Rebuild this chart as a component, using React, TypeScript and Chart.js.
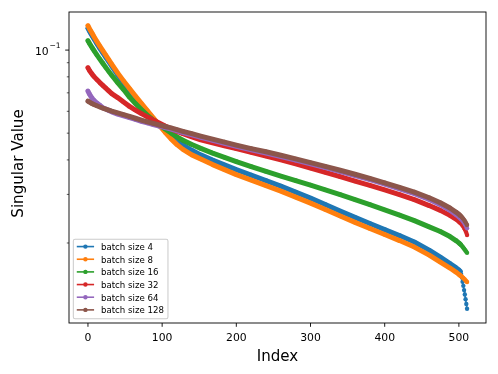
import { useEffect, useRef } from 'react';
import { Chart, registerables } from 'chart.js';

Chart.register(...registerables);

// ---- data ----
const INDEX = [0, 2, 4, 6, 8, 12, 16, 20, 24, 28, 32, 40, 48, 56, 64, 72, 80, 88, 96, 104, 112, 120, 128, 140, 152, 168, 184, 200, 220, 240, 260, 280, 300, 320, 340, 360, 380, 400, 420, 440, 460, 475, 488, 496, 500, 502, 503, 504, 505, 506, 507, 508, 509, 510, 511];

const BS4 = [0.1199, 0.1172, 0.1146, 0.1122, 0.1099, 0.1055, 0.1014, 0.09769, 0.09418, 0.09078, 0.0875,
  0.08131, 0.07612, 0.07145, 0.06723, 0.06336, 0.05982, 0.05647, 0.05358, 0.05096, 0.0488, 0.04696, 0.04535,
  0.04335, 0.04172, 0.03995, 0.03838, 0.0369,
  0.03525, 0.03367, 0.03216, 0.03059, 0.02909, 0.02756, 0.0261, 0.02477, 0.02352, 0.02237, 0.02128, 0.02016, 0.01885,
  0.01778, 0.01685, 0.01629, 0.01596, 0.01576,
  0.01543, 0.01499, 0.01447, 0.01399, 0.0135, 0.01302, 0.01251, 0.01202, 0.01156];

const BS8 = [0.1225, 0.1196, 0.117, 0.1145, 0.1121, 0.1075, 0.1034, 0.09958, 0.09591, 0.09238, 0.08898,
  0.08268, 0.07734, 0.07253, 0.06813, 0.06411, 0.06037, 0.0568, 0.05349, 0.05037, 0.04768, 0.04546, 0.04368,
  0.04172, 0.04028, 0.03847, 0.0369, 0.03539,
  0.03381, 0.03229, 0.03084, 0.02934, 0.0279, 0.02643, 0.02504, 0.02376, 0.02256, 0.02146, 0.02041, 0.01933, 0.01808,
  0.01706, 0.01623, 0.01569, 0.01539, 0.01524,
  0.01517, 0.01509, 0.01501, 0.01493, 0.01483, 0.01474, 0.01464, 0.01453, 0.01444];

const BS16 = [0.1081, 0.1058, 0.1037, 0.1017, 0.09975, 0.09608, 0.09277, 0.08957, 0.08656, 0.08372, 0.08104,
  0.07625, 0.07193, 0.06756, 0.064, 0.06087, 0.05814, 0.05577, 0.05367, 0.05182, 0.05004, 0.04848, 0.04712,
  0.04546, 0.04404, 0.04235, 0.04086, 0.03945,
  0.03784, 0.03635, 0.03495, 0.03367, 0.03243, 0.03116, 0.02996, 0.02873, 0.02756, 0.02637, 0.02525, 0.02411, 0.02288,
  0.022, 0.0211, 0.02041, 0.02002, 0.01979,
  0.01966, 0.01953, 0.01938, 0.01924, 0.01908, 0.01892, 0.01876, 0.01859, 0.01842];

const BS32 = [0.08628, 0.08442, 0.08289, 0.08151, 0.0803, 0.07818, 0.07625, 0.07449, 0.07283, 0.07115, 0.06957,
  0.06728, 0.0648, 0.06252, 0.06062, 0.05888, 0.05728, 0.05577, 0.05439, 0.05305, 0.05182, 0.05075, 0.04979,
  0.04848, 0.04732, 0.04611, 0.04497, 0.04393,
  0.0426, 0.0413, 0.04002, 0.0387, 0.03737, 0.03605, 0.03478, 0.03353, 0.03235, 0.03116, 0.02996, 0.02871, 0.02733,
  0.02626, 0.02518, 0.02442, 0.02395, 0.02368,
  0.02352, 0.02334, 0.02315, 0.02294, 0.02269, 0.02243, 0.02213, 0.02178, 0.02137];

const BS64 = [0.07103, 0.06928, 0.06785, 0.06672, 0.06578, 0.06427, 0.0631, 0.06185, 0.06119, 0.06047, 0.05972,
  0.05863, 0.05776, 0.0569, 0.05605, 0.05521, 0.05444, 0.05371, 0.053, 0.05235, 0.05173, 0.05101, 0.05029,
  0.04929, 0.04832, 0.04712, 0.04596, 0.04482,
  0.04353, 0.04235, 0.04113, 0.03991, 0.0387, 0.03749, 0.03629, 0.0351, 0.03392, 0.0327, 0.03144, 0.03021, 0.02876,
  0.02754, 0.02628, 0.02537, 0.02487, 0.02458,
  0.02442, 0.02426, 0.02407, 0.02387, 0.02366, 0.02342, 0.02317, 0.0229, 0.0226];

const BS128 = [0.06535, 0.0648, 0.06432, 0.06389, 0.06352, 0.06284, 0.06221, 0.06164, 0.06113, 0.06062, 0.06012,
  0.05922, 0.05834, 0.05747, 0.05662, 0.05577, 0.05498, 0.05425, 0.05354, 0.05287, 0.05226, 0.05152, 0.05079,
  0.04979, 0.0488, 0.04759, 0.04642, 0.04527,
  0.04397, 0.04281, 0.04158, 0.04035, 0.03912, 0.0379, 0.03669, 0.03548, 0.03429, 0.03305, 0.03181, 0.03059, 0.02917,
  0.02798, 0.02677, 0.02589, 0.0254, 0.02512,
  0.02498, 0.02483, 0.02464, 0.02446, 0.02426, 0.02403, 0.0238, 0.02354, 0.02323];

const LABELS = ['batch size 4', 'batch size 8', 'batch size 16', 'batch size 32', 'batch size 64', 'batch size 128'];
const SERIES = [BS4, BS8, BS16, BS32, BS64, BS128];
const COLORS = ['#1f77b4', '#ff7f0e', '#2ca02c', '#d62728', '#9467bd', '#8c564b'];

const X_TICKS = [0, 100, 200, 300, 400, 500];
const X_TICK_LABELS = ['0', '100', '200', '300', '400', '500'];
const Y_MAJOR = [0.1];
const Y_MINOR = [0.02, 0.03, 0.04, 0.05, 0.06, 0.07, 0.08, 0.09];
const X_TITLE = 'Index';
const Y_TITLE = 'Singular Value';

const X_MIN = -25.55;
const X_MAX = 536.55;
const Y_MIN = 0.01026;
const Y_MAX = 0.1374;

const FONT = '"DejaVu Sans", "Liberation Sans", sans-serif';

const mplAxes = {
  id: 'mplAxes',
  beforeDraw(chart: any) {
    const { ctx, width, height } = chart;
    ctx.save();
    ctx.fillStyle = '#ffffff';
    ctx.fillRect(0, 0, width, height);
    ctx.restore();
  },
  afterDatasetsDraw(chart: any) {
    const { ctx, chartArea } = chart;
    const { left, right, top, bottom } = chartArea;
    const xs = chart.scales.x;
    const ys = chart.scales.y;
    ctx.save();

    // frame
    ctx.strokeStyle = '#000000';
    ctx.lineWidth = 0.9;
    ctx.strokeRect(left, top, right - left, bottom - top);

    // x ticks + labels
    ctx.fillStyle = '#000000';
    ctx.font = `10.8px ${FONT}`;
    ctx.textAlign = 'center';
    ctx.textBaseline = 'alphabetic';
    X_TICKS.forEach((v, i) => {
      const px = xs.getPixelForValue(v);
      ctx.beginPath();
      ctx.lineWidth = 0.9;
      ctx.moveTo(px, bottom);
      ctx.lineTo(px, bottom + 3.8);
      ctx.stroke();
      ctx.fillText(X_TICK_LABELS[i], px, bottom + 17.7);
    });

    // y minor ticks
    Y_MINOR.forEach((v) => {
      const py = ys.getPixelForValue(v);
      ctx.beginPath();
      ctx.lineWidth = 0.65;
      ctx.moveTo(left, py);
      ctx.lineTo(left - 2.2, py);
      ctx.stroke();
    });

    // y major ticks + labels (10^-1)
    Y_MAJOR.forEach((v) => {
      const py = ys.getPixelForValue(v);
      ctx.beginPath();
      ctx.lineWidth = 0.9;
      ctx.moveTo(left, py);
      ctx.lineTo(left - 3.8, py);
      ctx.stroke();
      const exp = Math.round(Math.log10(v));
      const base = '10';
      const sup = (exp < 0 ? '\u2212' : '') + String(Math.abs(exp));
      ctx.textAlign = 'left';
      ctx.font = `7.6px ${FONT}`;
      const wSup = ctx.measureText(sup).width;
      ctx.font = `10.8px ${FONT}`;
      const wBase = ctx.measureText(base).width;
      const xr = left - 3.8 - 3.8 - 1;
      const x0 = xr - wSup - wBase - 0.5;
      ctx.fillText(base, x0, py + 5);
      ctx.font = `7.6px ${FONT}`;
      ctx.fillText(sup, x0 + wBase + 0.8, py - 1.8);
    });

    // axis titles
    ctx.font = `15.1px ${FONT}`;
    ctx.textAlign = 'center';
    ctx.textBaseline = 'alphabetic';
    ctx.fillText(X_TITLE, (left + right) / 2, bottom + 37.7);
    ctx.save();
    ctx.translate(22.7, (top + bottom) / 2 - 4);
    ctx.rotate(-Math.PI / 2);
    ctx.fillText(Y_TITLE, 0, 0);
    ctx.restore();

    // legend (lower left, inside axes)
    const fs = 8.64;
    ctx.font = `${fs}px ${FONT}`;
    const n = chart.data.datasets.length;
    let maxW = 0;
    chart.data.datasets.forEach((d: any) => {
      maxW = Math.max(maxW, ctx.measureText(d.label).width);
    });
    const pad = 3.46;
    const handleLen = 17.3;
    const handleGap = 6.9;
    const rowH = 12.66;
    const boxW = pad * 2 + handleLen + handleGap + maxW + 0.5;
    const boxH = 79.5;
    const bx = left + 4.32;
    const by = bottom - 4.32 - boxH;
    const r = 1.8;
    ctx.beginPath();
    ctx.moveTo(bx + r, by);
    ctx.lineTo(bx + boxW - r, by);
    ctx.arcTo(bx + boxW, by, bx + boxW, by + r, r);
    ctx.lineTo(bx + boxW, by + boxH - r);
    ctx.arcTo(bx + boxW, by + boxH, bx + boxW - r, by + boxH, r);
    ctx.lineTo(bx + r, by + boxH);
    ctx.arcTo(bx, by + boxH, bx, by + boxH - r, r);
    ctx.lineTo(bx, by + r);
    ctx.arcTo(bx, by, bx + r, by, r);
    ctx.closePath();
    ctx.fillStyle = 'rgba(255,255,255,0.8)';
    ctx.fill();
    ctx.strokeStyle = '#cccccc';
    ctx.lineWidth = 1.05;
    ctx.stroke();

    ctx.textAlign = 'left';
    ctx.textBaseline = 'alphabetic';
    for (let i = 0; i < n; i++) {
      const d = chart.data.datasets[i];
      const cy = by + 7.4 + i * rowH;
      const hx0 = bx + pad;
      const hx1 = hx0 + handleLen;
      ctx.strokeStyle = d.borderColor;
      ctx.lineWidth = 1.6;
      ctx.beginPath();
      ctx.moveTo(hx0, cy);
      ctx.lineTo(hx1, cy);
      ctx.stroke();
      ctx.fillStyle = d.borderColor;
      ctx.beginPath();
      ctx.arc((hx0 + hx1) / 2, cy, 2.2, 0, Math.PI * 2);
      ctx.fill();
      ctx.fillStyle = '#000000';
      ctx.fillText(d.label, hx1 + handleGap, cy + 3.4);
    }

    ctx.restore();
  },
};

export default function App() {
  const ref = useRef<HTMLCanvasElement>(null);

  useEffect(() => {
    document.body.style.margin = '0';
    const canvas = ref.current;
    if (!canvas) return;

    const datasets = SERIES.map((vals, k) => ({
      label: LABELS[k],
      data: INDEX.map((x, i) => ({ x, y: vals[i] })),
      order: SERIES.length - k,
      borderColor: COLORS[k],
      backgroundColor: COLORS[k],
      pointBackgroundColor: COLORS[k],
      pointBorderWidth: 0,
      pointRadius: 2.2,
      pointHoverRadius: 2.2,
      borderWidth: 5,
      borderCapStyle: 'round',
      borderJoinStyle: 'round',
      tension: 0,
      clip: 0,
      segment: {
        // gaps > 1 index stand for runs of overlapping markers (dense band)
        borderWidth: (ctx: any) => (ctx.p1.parsed.x - ctx.p0.parsed.x > 1 ? 5 : 1.6),
      },
    }));

    const chart = new Chart(canvas, {
      type: 'line',
      data: { datasets } as any,
      options: {
        responsive: false,
        devicePixelRatio: 1,
        animation: false,
        events: [],
        layout: { padding: { left: 69, right: 12, top: 12, bottom: 51 } },
        scales: {
          x: { type: 'linear', display: false, min: X_MIN, max: X_MAX },
          y: { type: 'logarithmic', display: false, min: Y_MIN, max: Y_MAX },
        },
        plugins: {
          legend: { display: false },
          tooltip: { enabled: false },
        },
      } as any,
      plugins: [mplAxes],
    });

    return () => chart.destroy();
  }, []);

  return (
    <div style={{ width: 498, height: 374 }}>
      <canvas ref={ref} width={498} height={374} style={{ display: 'block', width: 498, height: 374 }} />
    </div>
  );
}
